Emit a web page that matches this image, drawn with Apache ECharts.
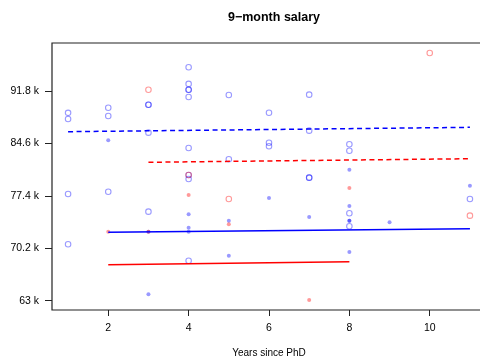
<!DOCTYPE html>
<html>
<head>
<meta charset="utf-8">
<script src="https://cdn.jsdelivr.net/npm/echarts@6/dist/echarts.min.js"></script>
<style>html,body{margin:0;padding:0;background:#fff}#c{width:480px;height:363px}</style>
</head>
<body>
<div id="c"></div>
<script>
// Data (salary in thousands)
const title = "9\u2212month salary";
const xName = "Years since PhD";
const xTicks = [2, 4, 6, 8, 10];
const yTicks = [63, 70.2, 77.4, 84.6, 91.8];

const blueOpen = [
  [1,88.8],[1,87.96],[2,89.5],[2,88.37],[3,89.92],[3,89.92],[3,86.08],
  [4,95.06],[4,92.77],[4,91.98],[4,91.98],[4,90.98],[4,83.97],[4,80.27],[4,79.72],
  [5,91.25],[5,82.42],[6,88.82],[6,84.70],[6,84.21],
  [7,91.3],[7,86.35],[7,79.9],[7,79.9],[8,84.48],[8,83.6],
  [1,77.66],[1,70.75],[2,77.97],[3,75.23],[4,68.49],[8,75.0],[8,73.22],[11,76.97]
];
const redOpen = [[3,91.98],[10,97.02],[4,80.27],[5,76.97],[11,74.68]];
const blueFilled = [
  [2,85.03],[8,81.0],[3,72.48],[3,63.88],[4,74.87],[4,73.03],[4,72.48],
  [5,73.99],[5,69.18],[6,77.11],[7,74.5],[8,76.0],[8,73.99],[8,73.99],
  [8,69.69],[9,73.77],[11,78.8]
];
const redFilled = [[2,72.48],[3,72.48],[4,77.52],[5,73.49],[7,63.1],[8,78.48]];

const blueDashed = [[1,86.21],[11,86.81]];
const redDashed = [[3,82.01],[11,82.5]];
const blueSolid = [[2,72.4],[11,72.89]];
const redSolid = [[2,67.95],[8,68.36]];

const FONT = "Liberation Sans, Arial, Helvetica, sans-serif";
const chart = echarts.init(document.getElementById('c'), null, {renderer: 'canvas'});

function openSeries(data, col) {
  return {type:'scatter', data, symbol:'circle', symbolSize:5.5,
    itemStyle:{color:'rgba(0,0,0,0)', borderColor:col, borderWidth:1.1},
    emphasis:{disabled:true}, z:3};
}
function filledSeries(data, col) {
  return {type:'scatter', data, symbol:'circle', symbolSize:4,
    itemStyle:{color:col, borderWidth:0}, emphasis:{disabled:true}, z:3};
}
function lineSeries(data, col, dashed) {
  return {type:'line', data, symbol:'none', silent:true,
    lineStyle:{color:col, width:1.5, type: dashed ? [5,3.5] : 'solid'}, z:4};
}

chart.setOption({
  animation:false,
  backgroundColor:'#fff',
  title:{text:title, left:269, top:6, textAlign:'center',
    textStyle:{fontFamily:FONT, fontSize:12.5, fontWeight:'bold', color:'#000'}},
  grid:{left:52, top:43, width:434, height:267, outerBoundsMode:'none', containLabel:false,
    show:true, borderColor:'#222', borderWidth:1.2, backgroundColor:'transparent'},
  xAxis:{type:'value', min:0.6, max:11.4,
    name:xName, nameLocation:'middle', nameGap:38,
    nameTextStyle:{fontFamily:FONT, fontSize:10, color:'#000'},
    axisLine:{show:false}, splitLine:{show:false},
    axisTick:{show:true, inside:false, length:6, customValues:xTicks, lineStyle:{color:'#222', width:1}},
    axisLabel:{customValues:xTicks, margin:13, fontFamily:FONT, fontSize:10.5, color:'#000'}},
  yAxis:{type:'value', min:61.723, max:98.39,
    axisLine:{show:false}, splitLine:{show:false},
    axisTick:{show:true, inside:false, length:7, customValues:yTicks, lineStyle:{color:'#222', width:1}},
    axisLabel:{customValues:yTicks, margin:13, fontFamily:FONT, fontSize:10.5, color:'#000',
      formatter:v => (Math.round(v*10)/10) + ' k'}},
  series:[
    openSeries(blueOpen, 'rgba(0,0,255,0.5)'),
    openSeries(redOpen, 'rgba(255,0,0,0.5)'),
    filledSeries(blueFilled, 'rgba(0,0,255,0.5)'),
    filledSeries(redFilled, 'rgba(255,0,0,0.5)'),
    lineSeries(blueDashed, '#0000ff', true),
    lineSeries(redDashed, '#ff0000', true),
    lineSeries(blueSolid, '#0000ff', false),
    lineSeries(redSolid, '#ff0000', false)
  ]
});
</script>
</body>
</html>
